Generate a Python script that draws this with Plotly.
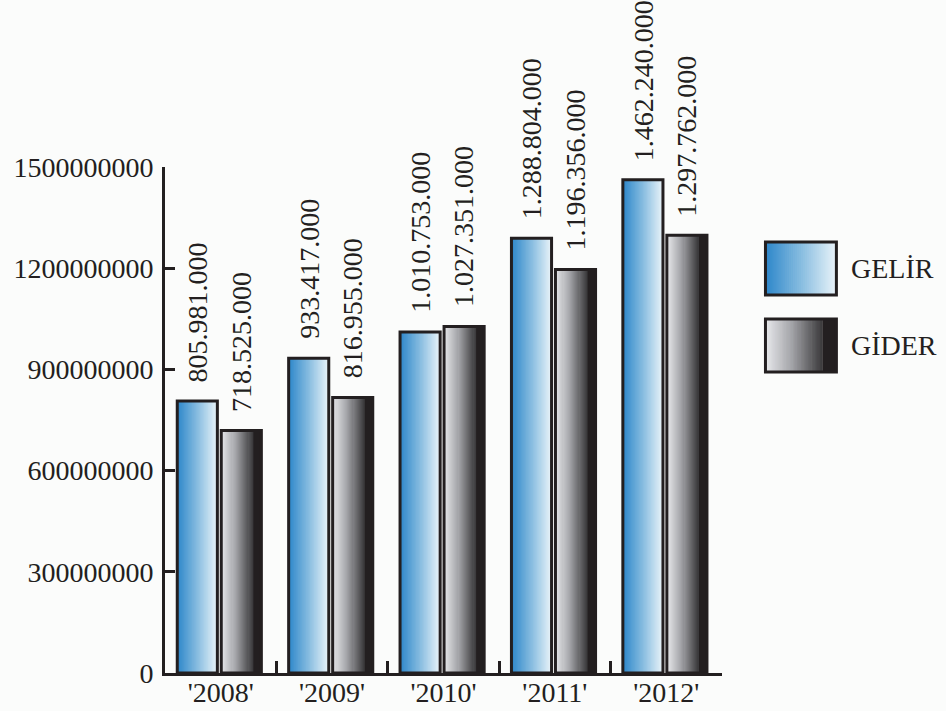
import plotly.graph_objects as go

years = ["'2008'", "'2009'", "'2010'", "'2011'", "'2012'"]
gelir = [805981000, 933417000, 1010753000, 1288804000, 1462240000]
gider = [718525000, 816955000, 1027351000, 1196356000, 1297762000]
gelir_labels = ["805.981.000", "933.417.000", "1.010.753.000", "1.288.804.000", "1.462.240.000"]
gider_labels = ["718.525.000", "816.955.000", "1.027.351.000", "1.196.356.000", "1.297.762.000"]
ytick_vals = [0, 300000000, 600000000, 900000000, 1200000000, 1500000000]
ytick_text = ["0", "300000000", "600000000", "900000000", "1200000000", "1500000000"]
series_names = ["GELİR", "GİDER"]

INK = "#231F20"
FONT = "Liberation Serif, Times New Roman, serif"
BG = "#FBFCFB"

def lerp(c1, c2, t):
    return tuple(c1[k] + (c2[k] - c1[k]) * t for k in range(3))

def grad(stops, t):
    for (t0, c0), (t1, c1) in zip(stops, stops[1:]):
        if t <= t1:
            u = 0 if t1 == t0 else (t - t0) / (t1 - t0)
            return lerp(c0, c1, u)
    return stops[-1][1]

def rgb(c):
    return "rgb(%d,%d,%d)" % tuple(int(round(v)) for v in c)

# (gradient stops over [0, band], solid band colour, band start)
gelir_style = ([(0.0, (45, 135, 202)), (0.5, (135, 188, 224)), (1.0, (234, 244, 249))], None, 1.0)
gider_style = ([(0.0, (232, 233, 236)), (0.45, (165, 166, 170)), (1.0, (58, 57, 59))],
               (35, 31, 32), 0.8)

W = 0.36
starts = [-0.39, 0.005]
N = 30

FIG_W, FIG_H = 946, 711
PLOT_L, PLOT_R, PLOT_T, PLOT_B = 165, 722.5, 167, 673

fig = go.Figure()
for vals, (stops, band_col, band), st in [(gelir, gelir_style, starts[0]),
                                          (gider, gider_style, starts[1])]:
    gw = W * band
    step = gw / N
    for i in range(N):
        t = (i + 0.5) / N
        fig.add_trace(go.Bar(
            x=years, y=vals, offset=st + i * step, width=min(step * 1.6, W - i * step),
            marker=dict(color=rgb(grad(stops, t)), line=dict(width=0)),
            showlegend=False, hoverinfo="skip"))
    if band_col is not None:
        fig.add_trace(go.Bar(
            x=years, y=vals, offset=st + gw, width=W - gw,
            marker=dict(color=rgb(band_col), line=dict(width=0)),
            showlegend=False, hoverinfo="skip"))
    fig.add_trace(go.Bar(
        x=years, y=vals, offset=st, width=W,
        marker=dict(color="rgba(0,0,0,0)", line=dict(color=INK, width=3)),
        showlegend=False, hoverinfo="skip"))

# value labels
px_per_unit = (PLOT_R - PLOT_L) / 5
for vals, labs, st in [(gelir, gelir_labels, starts[0]), (gider, gider_labels, starts[1])]:
    for yr, v, lab in zip(years, vals, labs):
        fig.add_annotation(
            x=yr, y=v, text=lab, textangle=-90, showarrow=False,
            xanchor="center", yanchor="bottom",
            xshift=(st + W / 2) * px_per_unit, yshift=17,
            font=dict(family=FONT, size=28, color=INK))

# custom legend
def px2paper(x, y):
    return (x - PLOT_L) / (PLOT_R - PLOT_L), (PLOT_B - y) / (PLOT_B - PLOT_T)

def prect(a, ya, b, yb, **kw):
    pa, pya = px2paper(a, ya)
    pb, pyb = px2paper(b, yb)
    return dict(type="rect", xref="paper", yref="paper", x0=pa, x1=pb, y0=pyb, y1=pya, **kw)

shapes = []
boxes = [(766, 242, 837, 295, gelir_style), (766, 319, 837, 372, gider_style)]
for x0, y0, x1, y1, (stops, band_col, band) in boxes:
    M = 36
    gx1 = x0 + (x1 - x0) * band
    for i in range(M):
        t = (i + 0.5) / M
        a = x0 + (gx1 - x0) * i / M
        b = min(x0 + (gx1 - x0) * (i + 1.4) / M, gx1)
        shapes.append(prect(a, y0, b, y1, fillcolor=rgb(grad(stops, t)), line=dict(width=0)))
    if band_col is not None:
        shapes.append(prect(gx1, y0, x1, y1, fillcolor=rgb(band_col), line=dict(width=0)))
    shapes.append(prect(x0, y0, x1, y1, fillcolor="rgba(0,0,0,0)", line=dict(color=INK, width=3)))
fig.update_layout(shapes=shapes)

for name, (x0, y0, x1, y1, _) in zip(series_names, boxes):
    tx, ty = px2paper(x1 + 13, (y0 + y1) / 2)
    fig.add_annotation(x=tx, y=ty, xref="paper", yref="paper", text=name,
                       showarrow=False, xanchor="left", yanchor="middle",
                       font=dict(family=FONT, size=28, color=INK))

fig.update_layout(
    width=FIG_W, height=FIG_H,
    margin=dict(l=PLOT_L, r=FIG_W - PLOT_R, t=PLOT_T, b=FIG_H - PLOT_B,
                pad=0, autoexpand=False),
    paper_bgcolor=BG, plot_bgcolor=BG,
    barmode="overlay", showlegend=False,
    font=dict(family=FONT, size=28, color=INK),
    xaxis=dict(type="category", range=[-0.5, 4.5], showgrid=False, zeroline=False,
               automargin=False,
               showline=True, linecolor=INK, linewidth=3,
               ticks="inside", tickson="boundaries", ticklen=12, tickwidth=3, tickcolor=INK,
               ticklabelstandoff=-8,
               tickfont=dict(family=FONT, size=28, color=INK)),
    yaxis=dict(range=[0, 1500000000], showgrid=False, zeroline=False,
               automargin=False,
               showline=True, linecolor=INK, linewidth=3,
               tickmode="array", tickvals=ytick_vals, ticktext=ytick_text,
               ticks="inside", ticklen=10, tickwidth=3, tickcolor=INK,
               ticklabelstandoff=3,
               tickfont=dict(family=FONT, size=28, color=INK)),
)

fig.write_html("out.html",
               config={"displayModeBar": False},
               post_script="document.body.style.margin='0px';document.body.style.background='%s';" % BG)
